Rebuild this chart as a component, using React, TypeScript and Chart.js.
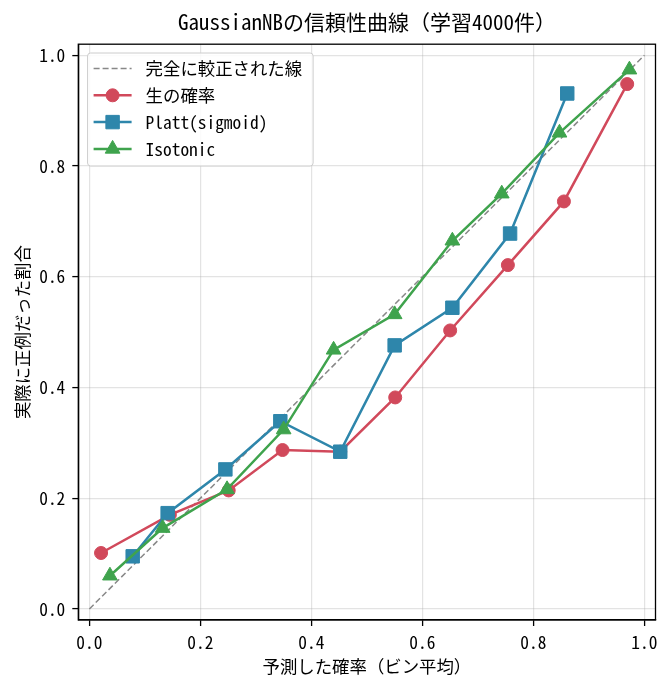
import { Chart, registerables } from "chart.js";
import { drawPoint } from "chart.js/helpers";
import { useEffect, useRef } from "react";
Chart.register(...registerables);

const FONT = '"Noto Sans Mono CJK JP", "DejaVu Sans Mono", "Noto Sans CJK JP", monospace';

// 読み取った値
const diagX = [0, 1];
const diagY = [0, 1];
const rawX = [0.021, 0.145, 0.251, 0.348, 0.452, 0.551, 0.65, 0.754, 0.855, 0.969];
const rawY = [0.101, 0.17, 0.214, 0.287, 0.284, 0.382, 0.503, 0.621, 0.736, 0.948];
const plattX = [0.078, 0.141, 0.245, 0.344, 0.452, 0.55, 0.654, 0.758, 0.861];
const plattY = [0.095, 0.173, 0.252, 0.339, 0.284, 0.476, 0.544, 0.678, 0.931];
const isoX = [0.037, 0.132, 0.248, 0.35, 0.44, 0.55, 0.654, 0.743, 0.847, 0.973];
const isoY = [0.06, 0.146, 0.216, 0.324, 0.468, 0.532, 0.665, 0.75, 0.86, 0.974];
const tickValues = [0, 0.2, 0.4, 0.6, 0.8, 1.0];
const seriesNames = ["完全に較正された線", "生の確率", "Platt(sigmoid)", "Isotonic"];

const toPoints = (xs: number[], ys: number[]) => xs.map((x, i) => ({ x, y: ys[i] }));

// 枠線と凡例（軸の内側、左上）
const framePlugin = {
  id: "frameAndLegend",
  afterDraw(chart: any) {
    const { ctx, chartArea: a } = chart;
    ctx.save();
    ctx.strokeStyle = "#000";
    ctx.lineWidth = 1.3;
    ctx.strokeRect(a.left, a.top, a.right - a.left, a.bottom - a.top);

    ctx.font = `17.4px ${FONT}`;
    const datasets = chart.data.datasets;
    const textW = Math.max(...datasets.map((d: any) => ctx.measureText(d.label).width));
    const bx = a.left + 9.3;
    const by = a.top + 8.8;
    const bw = 58 + textW + 11;
    const bh = 113;
    ctx.beginPath();
    ctx.roundRect(bx, by, bw, bh, 3);
    ctx.fillStyle = "rgba(255,255,255,0.85)";
    ctx.fill();
    ctx.strokeStyle = "#cccccc";
    ctx.lineWidth = 1;
    ctx.stroke();

    datasets.forEach((d: any, i: number) => {
      const y = by + 15.5 + i * 26.8;
      ctx.save();
      ctx.strokeStyle = d.borderColor;
      ctx.lineWidth = d.borderWidth;
      ctx.setLineDash(d.borderDash || []);
      ctx.beginPath();
      ctx.moveTo(bx + 6, y);
      ctx.lineTo(bx + 44, y);
      ctx.stroke();
      ctx.restore();
      if (d.pointRadius > 0) {
        ctx.save();
        ctx.fillStyle = d.pointBackgroundColor;
        ctx.strokeStyle = d.pointBorderColor;
        ctx.lineWidth = 1;
        drawPoint(ctx, { pointStyle: d.pointStyle, radius: d.pointRadius, rotation: 0, borderWidth: 1 }, bx + 25, y);
        ctx.restore();
      }
      ctx.fillStyle = "#000";
      ctx.textBaseline = "middle";
      ctx.textAlign = "left";
      ctx.fillText(d.label, bx + 58, y);
    });
    ctx.restore();
  },
};

function CalibrationChart() {
  const chartRef = useRef<HTMLCanvasElement | null>(null);
  const chartInstance = useRef<Chart | null>(null);

  useEffect(() => {
    const ctx = chartRef.current?.getContext("2d");
    if (chartInstance.current) {
      chartInstance.current.destroy();
    }
    if (ctx) {
      const series = (label: string, xs: number[], ys: number[], color: string, style: string, r: number, order: number) => ({
        label,
        data: toPoints(xs, ys),
        showLine: true,
        borderColor: color,
        backgroundColor: color,
        borderWidth: 2.5,
        pointStyle: style,
        pointRadius: r,
        pointHoverRadius: r,
        pointBackgroundColor: color,
        pointBorderColor: color,
        pointBorderWidth: 1,
        order,
      });
      chartInstance.current = new Chart(ctx, {
        type: "scatter",
        data: {
          datasets: [
            {
              label: seriesNames[0],
              data: toPoints(diagX, diagY),
              showLine: true,
              borderColor: "#888888",
              borderWidth: 1.5,
              borderDash: [6, 3],
              pointRadius: 0,
              order: 4,
            } as any,
            series(seriesNames[1], rawX, rawY, "#d1495b", "circle", 6.5, 3),
            series(seriesNames[2], plattX, plattY, "#2e86ab", "rect", 9.5, 2),
            series(seriesNames[3], isoX, isoY, "#3fa34d", "triangle", 8.5, 1),
          ],
        },
        options: {
          responsive: true,
          maintainAspectRatio: false,
          animation: false,
          layout: { padding: { left: 0, right: 14.5, top: 0, bottom: 0 } },
          plugins: {
            legend: { display: false },
            tooltip: { enabled: false },
            title: {
              display: true,
              fullSize: false,
              text: "GaussianNBの信頼性曲線（学習4000件）",
              color: "#000",
              font: { family: FONT, size: 21, weight: "normal" },
              padding: { top: 9, bottom: 10 },
            },
          },
          scales: {
            x: {
              type: "linear",
              min: -0.02,
              max: 1.02,
              afterBuildTicks: (scale: any) => {
                scale.ticks = tickValues.map((v) => ({ value: v }));
              },
              afterFit: (scale: any) => {
                scale.height = 69;
              },
              ticks: {
                color: "#000",
                padding: 6,
                font: { family: FONT, size: 17.4 },
                callback: (v: any) => Number(v).toFixed(1),
              },
              grid: { color: "rgba(176,176,176,0.35)", lineWidth: 1.2, tickColor: "#000", tickLength: 6, tickWidth: 1.3 },
              border: { display: true, color: "#000", width: 1.3 },
              title: {
                display: true,
                text: "予測した確率（ビン平均）",
                color: "#000",
                font: { family: FONT, size: 17.4 },
                padding: { top: 0, bottom: 12 },
              },
            },
            y: {
              type: "linear",
              min: -0.02,
              max: 1.02,
              afterBuildTicks: (scale: any) => {
                scale.ticks = tickValues.map((v) => ({ value: v }));
              },
              afterFit: (scale: any) => {
                scale.width = 78.3;
              },
              ticks: {
                color: "#000",
                padding: 7,
                font: { family: FONT, size: 17.4 },
                callback: (v: any) => Number(v).toFixed(1),
              },
              grid: { color: "rgba(176,176,176,0.35)", lineWidth: 1.2, tickColor: "#000", tickLength: 6, tickWidth: 1.3 },
              border: { display: true, color: "#000", width: 1.3 },
              title: {
                display: true,
                text: "実際に正例だった割合",
                color: "#000",
                font: { family: FONT, size: 17.4 },
                padding: { top: 11.5, bottom: 0 },
              },
            },
          },
        },
        plugins: [framePlugin],
      });
    }
    return () => {
      if (chartInstance.current) {
        chartInstance.current.destroy();
      }
    };
  }, []);

  return (
    <div style={{ position: "fixed", left: 0, top: 0, width: 670, height: 689, background: "#fff" }}>
      <canvas ref={chartRef} />
    </div>
  );
}

export default function App() {
  return <CalibrationChart />;
}
